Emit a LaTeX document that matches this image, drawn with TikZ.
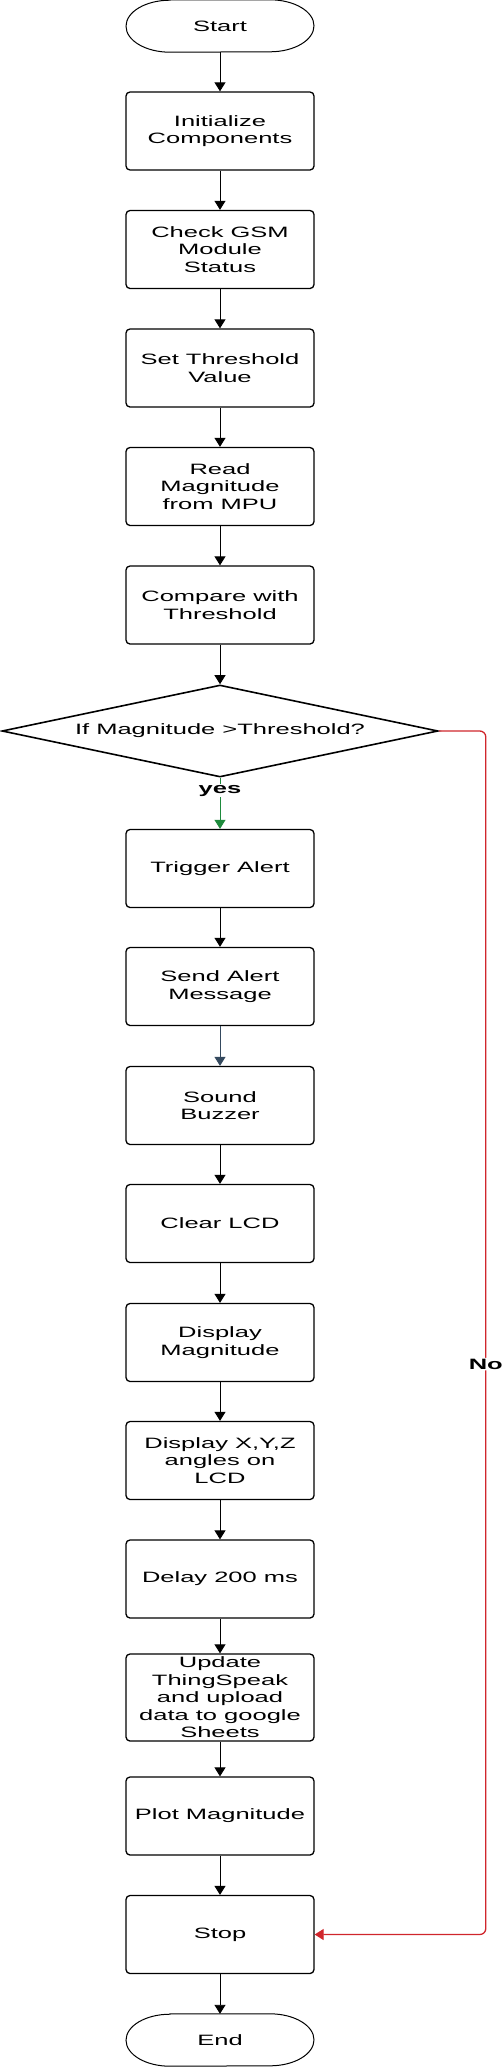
\documentclass[tikz,border=0pt]{standalone}
\usepackage{fontspec}
\setmainfont[FakeStretch=1.7]{Liberation Sans}
\usetikzlibrary{shapes.geometric,arrows.meta}
\definecolor{noRed}{HTML}{D0262C}
\definecolor{yesGreen}{HTML}{1E8A3C}
\definecolor{slate}{HTML}{34495E}
\newcommand{\flowfont}{\fontsize{15pt}{17.5pt}\selectfont}
\tikzset{
  box/.style={draw, rounded corners=4pt, line width=1.3pt, minimum width=188pt, minimum height=78pt, align=center, inner sep=3pt},
  term/.style={minimum width=188pt, minimum height=52pt, inner sep=0pt},
  dec/.style={draw, diamond, aspect=4.74, line width=1.6pt, minimum width=436pt, minimum height=92pt, inner sep=0pt},
  arr/.style={-{Triangle[width=11pt,length=9pt]}, line width=0.9pt},
  lbl/.style={fill=white, text=black, inner sep=1pt, font=\flowfont\bfseries}
}
\begin{document}
\begin{tikzpicture}[x=1pt,y=-1pt,font=\flowfont]
\useasboundingbox (0,0) rectangle (501,2067);
\node[term] (start) at (220,26) {Start};
\node[box] (init) at (220,131) {Initialize\\Components};
\node[box] (gsm) at (220,249.5) {Check GSM\\Module\\Status};
\node[box] (thresh) at (220,368) {Set Threshold\\Value};
\node[box] (read) at (220,486.5) {Read\\Magnitude\\from MPU};
\node[box] (cmp) at (220,605) {Compare with\\Threshold};
\node[dec] (dec) at (220,731) {If Magnitude >Threshold?};
\node[box] (alert) at (220,868.5) {Trigger Alert};
\node[box] (msg) at (220,986.5) {Send Alert\\Message};
\node[box] (buzz) at (220,1105.5) {Sound\\Buzzer};
\node[box] (clr) at (220,1223.5) {Clear LCD};
\node[box] (mag) at (220,1342.5) {Display\\Magnitude};
\node[box] (xyz) at (220,1460.5) {Display X,Y,Z\\angles on\\LCD};
\node[box] (delay) at (220,1579) {Delay 200 ms};
\node[box] (upd) at (220,1697.5) {Update\\ThingSpeak\\and upload\\data to google\\Sheets};
\node[box] (plot) at (220,1816) {Plot Magnitude};
\node[box] (stop) at (220,1934.5) {Stop};
\node[term] (finish) at (220,2040) {End};
\foreach \t in {start,finish}
  \draw[line width=1pt] ([xshift=-50pt]\t.north) -- ([xshift=50pt]\t.north)
    arc[start angle=90,end angle=-90,x radius=44pt,y radius=26pt]
    -- ([xshift=-50pt]\t.south)
    arc[start angle=-90,end angle=-270,x radius=44pt,y radius=26pt] -- cycle;
\foreach \a/\b in {start/init,init/gsm,gsm/thresh,thresh/read,read/cmp,cmp/dec,alert/msg,buzz/clr,clr/mag,mag/xyz,xyz/delay,delay/upd,upd/plot,plot/stop,stop/finish}
  \draw[arr] (\a) -- (\b);
\draw[arr,slate] (msg) -- (buzz);
\draw[arr,yesGreen] (dec.south) -- node[lbl,pos=0.25]{yes} (alert.north);
\draw[arr,noRed,line width=1.3pt,rounded corners=6pt] (dec.east) -- ++(47,0) |- node[lbl,pos=0.263]{No} (stop.east);
\end{tikzpicture}
\end{document}
